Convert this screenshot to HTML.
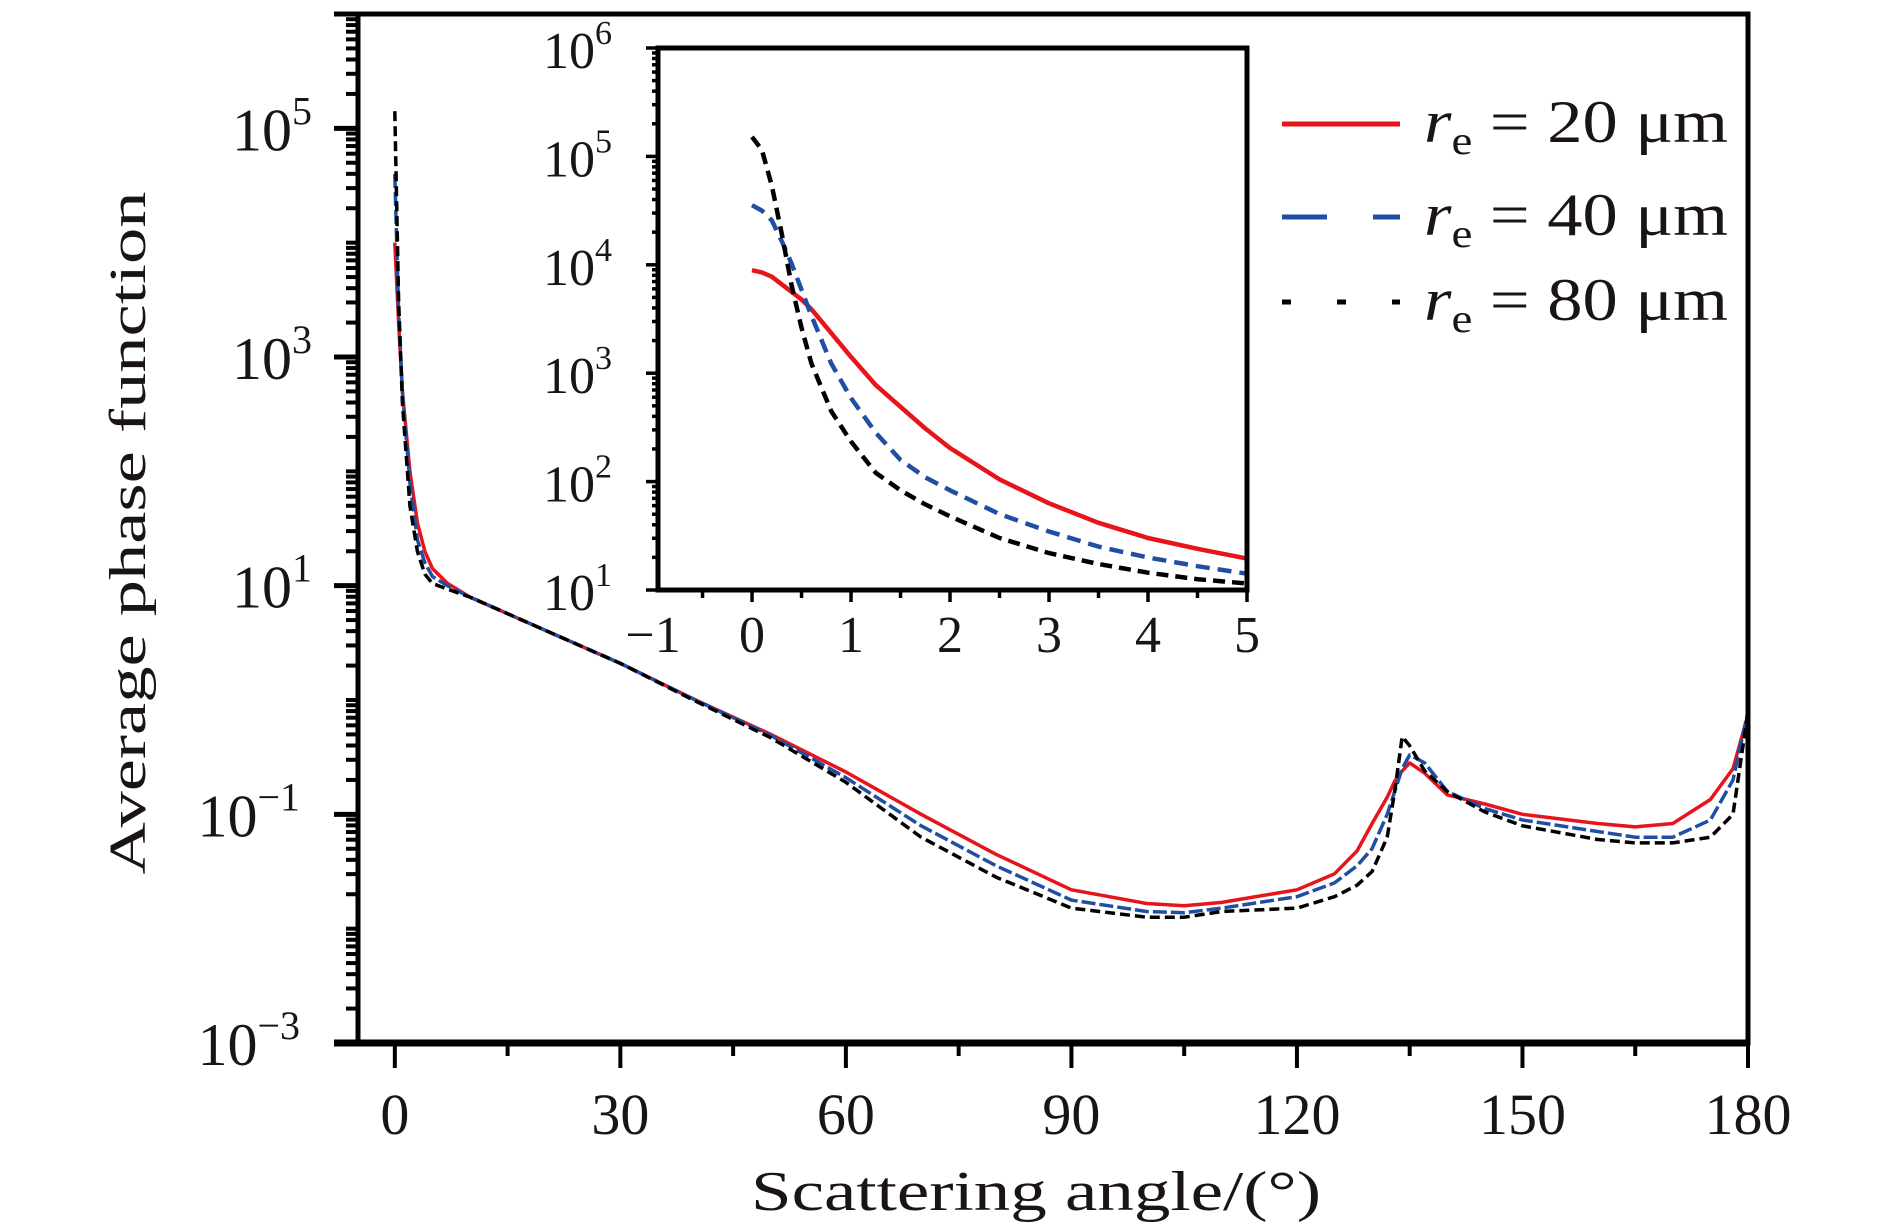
<!DOCTYPE html>
<html><head><meta charset="utf-8"><style>
html,body{margin:0;padding:0;background:#fff;}
svg{display:block;font-family:"Liberation Serif",serif;}
</style></head><body>
<svg id="chart" width="1890" height="1229" viewBox="0 0 1890 1229" xmlns="http://www.w3.org/2000/svg">
<g id="main"></g>
<g id="inset"></g>
<g id="legend"></g>
</svg>
<script>
// ---- main chart data (log10 of phase function) ----
const mainAngles = [0,0.5,1,2,3,4,5,7,10,20,30,40,50,60,70,80,90,100,105,110,120,125,128,130,132,133,134,135,137,140,145,150,160,165,170,175,178,180];
const redLog   = [4.0,3.3,2.7,2.0,1.55,1.3,1.15,1.02,0.9,0.61,0.32,0.0,-0.30,-0.63,-1.0,-1.35,-1.66,-1.78,-1.80,-1.77,-1.66,-1.52,-1.32,-1.08,-0.85,-0.71,-0.62,-0.55,-0.64,-0.83,-0.91,-1.0,-1.08,-1.11,-1.08,-0.87,-0.6,-0.13];
const blueLog  = [4.6,3.4,2.7,1.9,1.4,1.2,1.08,1.0,0.9,0.61,0.32,0.0,-0.31,-0.68,-1.1,-1.45,-1.75,-1.85,-1.86,-1.82,-1.72,-1.6,-1.45,-1.3,-1.0,-0.8,-0.6,-0.48,-0.55,-0.8,-0.95,-1.05,-1.15,-1.2,-1.2,-1.05,-0.7,-0.1];
const blackLog = [5.15,3.5,2.6,1.7,1.3,1.1,1.02,0.97,0.9,0.61,0.32,-0.01,-0.33,-0.72,-1.2,-1.55,-1.82,-1.9,-1.9,-1.85,-1.82,-1.72,-1.62,-1.5,-1.2,-0.8,-0.32,-0.4,-0.62,-0.8,-0.98,-1.1,-1.22,-1.25,-1.25,-1.2,-1.0,-0.1];
const mainXTicks = [0,30,60,90,120,150,180];
const mainYTicks = [-3,-1,1,3,5];
// ---- inset data ----
const insetX = [0,0.1,0.2,0.3,0.4,0.5,0.6,0.8,1,1.25,1.5,1.75,2,2.5,3,3.5,4,4.5,5];
const insetRed   = [3.95,3.93,3.89,3.82,3.75,3.68,3.59,3.37,3.15,2.89,2.69,2.49,2.31,2.02,1.80,1.62,1.48,1.38,1.29];
const insetBlue  = [4.55,4.5,4.41,4.22,4.01,3.77,3.53,3.09,2.77,2.45,2.20,2.04,1.92,1.70,1.54,1.40,1.30,1.22,1.15];
const insetBlack = [5.18,5.06,4.73,4.29,3.81,3.42,3.09,2.65,2.37,2.08,1.92,1.79,1.68,1.48,1.34,1.24,1.16,1.10,1.06];
const insetXTicks = [-1,0,1,2,3,4,5];
const insetYTicks = [1,2,3,4,5,6];

const NS="http://www.w3.org/2000/svg";
function mk(tag, attrs, parent){const e=document.createElementNS(NS,tag);for(const k in attrs)e.setAttribute(k,attrs[k]);parent.appendChild(e);return e;}

// main axes
const M={l:358,r:1748,t:14,b:1043,x0:-4.9,x1:180,y0:-3,y1:6};
const mx=v=>M.l+(v-M.x0)/(M.x1-M.x0)*(M.r-M.l);
const my=v=>M.b-(v-M.y0)/(M.y1-M.y0)*(M.b-M.t);
const gm=document.getElementById('main');

function series(g,xs,ys,fx,fy,color,dash,w,name){
  const p=mk('polyline',{points:xs.map((x,i)=>fx(x).toFixed(1)+','+fy(ys[i]).toFixed(1)).join(' '),fill:'none',stroke:color,'stroke-width':w,'stroke-dasharray':dash,'stroke-linejoin':'round'},g);
  
  
}
series(gm,mainAngles,redLog,mx,my,'#e8141c','none',3.5,'series-re-20');
series(gm,mainAngles,blueLog,mx,my,'#1f4fa3','14 4',3.5,'series-re-40');
series(gm,mainAngles,blackLog,mx,my,'#000','10 5',3.5,'series-re-80');

// frame
mk('rect',{x:M.l,y:M.t,width:M.r-M.l,height:M.b-M.t,fill:'none',stroke:'#000','stroke-width':5},gm);
mk('line',{x1:334,y1:M.b,x2:M.r+2,y2:M.b,stroke:'#000','stroke-width':7},gm);
mk('line',{x1:334,y1:M.t,x2:M.l,y2:M.t,stroke:'#000','stroke-width':5},gm);
// y ticks
for(let d=-3;d<6;d++){
  for(let k=1;k<10;k++){
    const v=d+Math.log10(k);const y=my(v);
    const major=(k===1&&d%2!==0);
    const t=mk('line',{x1:major?334:346,y1:y,x2:M.l,y2:y,stroke:'#000','stroke-width':major?5:4},gm);
    
    
  }
}
mainYTicks.forEach(v=>{
  const t=mk('text',{x:300,y:my(v)+22,'text-anchor':'end','font-size':60,fill:'#1a1414'},gm);
  
  
  t.textContent='10';
  const s=mk('tspan',{'font-size':40,dy:-26},t);
  s.textContent=(v<0?'\u2212'+(-v):String(v));
  if(v>=0) t.setAttribute('x',312);
});
// x ticks
for(let a=0;a<=180;a+=15){
  const major=a%30===0;
  const t=mk('line',{x1:mx(a),y1:M.b,x2:mx(a),y2:M.b+(major?25:13),stroke:'#000','stroke-width':4},gm);
  
  
}
mainXTicks.forEach(a=>{
  const t=mk('text',{x:mx(a),y:1134,'text-anchor':'middle','font-size':58,fill:'#1a1414'},gm);
  
  
  t.textContent=String(a);
});
const xl=mk('text',{x:1036,y:1210,'text-anchor':'middle','font-size':56,fill:'#1a1414',textLength:570,lengthAdjust:'spacingAndGlyphs'},gm);


xl.textContent='Scattering angle/(\u00b0)';
const yl=mk('text',{x:0,y:0,'text-anchor':'middle','font-size':52,fill:'#1a1414',textLength:683,lengthAdjust:'spacingAndGlyphs',transform:'translate(145,533) rotate(-90)'},gm);


yl.textContent='Average phase function';

// inset
const I={l:658,r:1247,t:48,b:590,x0:-0.95,x1:5,y0:1,y1:6};
const ix=v=>I.l+(v-I.x0)/(I.x1-I.x0)*(I.r-I.l);
const iy=v=>I.b-(v-I.y0)/(I.y1-I.y0)*(I.b-I.t);
const gi=document.getElementById('inset');
mk('rect',{x:I.l,y:I.t,width:I.r-I.l,height:I.b-I.t,fill:'#fff',stroke:'none'},gi);
series(gi,insetX,insetRed,ix,iy,'#e8141c','none',4.5,'inset-series-re-20');
series(gi,insetX,insetBlue,ix,iy,'#1f4fa3','14 8',4.5,'inset-series-re-40');
series(gi,insetX,insetBlack,ix,iy,'#000','12 7',4.5,'inset-series-re-80');
mk('rect',{x:I.l,y:I.t,width:I.r-I.l,height:I.b-I.t,fill:'none',stroke:'#000','stroke-width':5},gi);
for(let d=1;d<6;d++){
  for(let k=1;k<10;k++){
    const y=iy(d+Math.log10(k));
    mk('line',{x1:I.l-(k===1?12:6),y1:y,x2:I.l,y2:y,stroke:'#000','stroke-width':3.5},gi);
  }
}
mk('line',{x1:I.l-12,y1:I.t,x2:I.l,y2:I.t,stroke:'#000','stroke-width':3.5},gi);
insetYTicks.forEach(v=>{
  const t=mk('text',{x:612,y:iy(v)+20,'text-anchor':'end','font-size':52,fill:'#1a1414'},gi);
  
  
  t.textContent='10';
  const s=mk('tspan',{'font-size':34,dy:-24},t);
  s.textContent=String(v);
});
for(let v=-1;v<=5;v+=0.5){
  if(v<I.x0) continue;
  const major=Number.isInteger(v);
  mk('line',{x1:ix(v),y1:I.b,x2:ix(v),y2:I.b+(major?12:8),stroke:'#000','stroke-width':3.5},gi);
}
insetXTicks.forEach(v=>{
  const t=mk('text',{x:ix(v),y:652,'text-anchor':'middle','font-size':52,fill:'#1a1414'},gi);
  
  
  t.textContent=(v<0?'\u2212'+(-v):String(v));
});

// legend
const gl=document.getElementById('legend');
const legendLabels=['20','40','80'];
const legendRowY=[124,217,302];
const legendColors=['#e8141c','#1f4fa3','#000'];
const legendDash=['none','45 46','9 46'];
legendLabels.forEach((lab,i)=>{
  const y=legendRowY[i];
  const ln=mk('line',{x1:1282,y1:y,x2:1400,y2:y,stroke:legendColors[i],'stroke-width':5,'stroke-dasharray':legendDash[i]},gl);
  
  
  const t=mk('text',{x:1424,y:y+18,'font-size':60,fill:'#1a1414',textLength:304,lengthAdjust:'spacingAndGlyphs'},gl);
  
  
  const r=mk('tspan',{'font-style':'italic'},t); r.textContent='r';
  const e=mk('tspan',{'font-size':40,dy:12},t); e.textContent='e';
  const rest=mk('tspan',{dy:-12},t); rest.textContent=' = '+lab+' \u03bcm';
});
</script>
</body></html>
